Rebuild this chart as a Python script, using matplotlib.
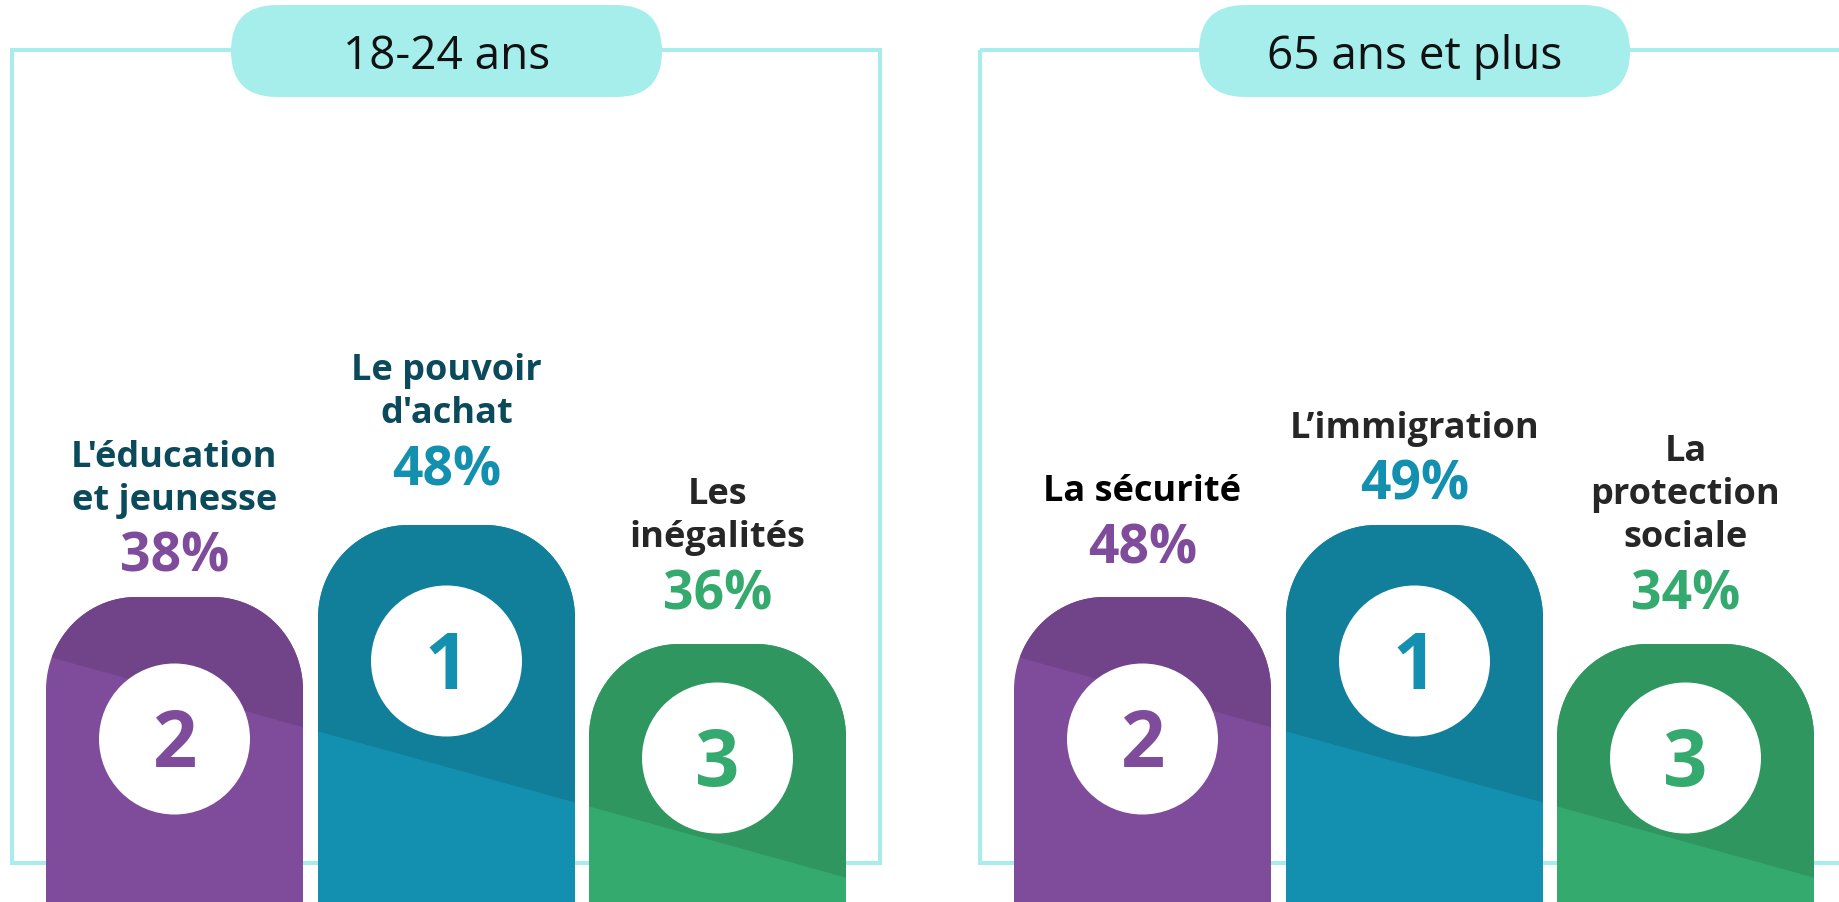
import matplotlib
matplotlib.use("Agg")
import matplotlib.pyplot as plt
from matplotlib.patches import PathPatch, Circle, FancyBboxPatch, Rectangle, Polygon
from matplotlib.path import Path
import numpy as np

# ---------------- data ----------------
panel_titles = ["18-24 ans", "65 ans et plus"]

topics_18_24 = ["L'éducation\net jeunesse", "Le pouvoir\nd'achat", "Les\ninégalités"]
values_18_24 = [38, 48, 36]
ranks_18_24 = [2, 1, 3]

topics_65 = ["La sécurité", "L’immigration", "La\nprotection\nsociale"]
values_65 = [48, 49, 34]
ranks_65 = [2, 1, 3]

# ---------------- layout / style ----------------
W, H = 1840, 902
FONT = ["Open Sans", "DejaVu Sans"]
frame_col = "#A8ECEC"
pill_col = "#A6EEEC"
light = {1: "#1390AF", 2: "#7F4C9B", 3: "#35AA6E"}
dark = {1: "#117F99", 2: "#71448A", 3: "#30965F"}
bar_top = {1: 525, 2: 597, 3: 644}
circle_y = {1: 661, 2: 739, 3: 758}
panel_x0 = [12, 980]
bar_dx = [34, 306, 577]
bar_w = 257
rx, ry = 90, 93
label_cols = [["#0B4A5A", "#0B4A5A", "#262626"], ["#000000", "#262626", "#262626"]]
pct_base = [[572, 485, 609], [563, 500, 609]]
line_gap = 43
pct_gap = 62

fig = plt.figure(figsize=(W / 100, H / 100), dpi=100)
ax = fig.add_axes([0, 0, 1, 1])
ax.set_xlim(0, W)
ax.set_ylim(H, 0)
ax.axis("off")


def bar_path(x0, top, w, bottom=H + 20):
    x1 = x0 + w
    t1 = np.linspace(np.pi, 1.5 * np.pi, 30)
    t2 = np.linspace(1.5 * np.pi, 2 * np.pi, 30)
    pts = [(x0, bottom), (x0, top + ry)]
    pts += [(x0 + rx + rx * np.cos(t), top + ry + ry * np.sin(t)) for t in t1]
    pts += [(x1 - rx + rx * np.cos(t), top + ry + ry * np.sin(t)) for t in t2]
    pts += [(x1, bottom), (x0, bottom)]
    codes = [Path.MOVETO] + [Path.LINETO] * (len(pts) - 2) + [Path.CLOSEPOLY]
    return Path(pts, codes)


panels = [(topics_18_24, values_18_24, ranks_18_24), (topics_65, values_65, ranks_65)]

for p, (topics, values, ranks) in enumerate(panels):
    px = panel_x0[p]
    # frame
    ax.add_patch(Rectangle((px, 50), 868, 813, fill=False, ec=frame_col, lw=2.9, zorder=1))
    # title pill
    ax.add_patch(FancyBboxPatch((px + 219, 5), 431, 92,
                                boxstyle="round,pad=0,rounding_size=46",
                                fc=pill_col, ec="none", zorder=2))
    ax.text(px + 434.5, 69, panel_titles[p], ha="center", va="baseline",
            fontsize=33, color="#111111", family=FONT, zorder=3)

    def yline(x):
        return 656 + 0.277 * (x - (px + 34))

    for i, (topic, val, rk) in enumerate(zip(topics, values, ranks)):
        x0 = px + bar_dx[i]
        x1 = x0 + bar_w
        top = bar_top[rk]
        bp = PathPatch(bar_path(x0, top, bar_w), fc=light[rk], ec="none", zorder=3)
        ax.add_patch(bp)
        dk = Polygon([(x0 - 2, yline(x0 - 2)), (x1 + 2, yline(x1 + 2)), (x1 + 2, 0), (x0 - 2, 0)],
                     closed=True, fc=dark[rk], ec="none", zorder=4)
        ax.add_patch(dk)
        dk.set_clip_path(bp)
        cx = x0 + bar_w / 2
        cy = circle_y[rk]
        ax.add_patch(Circle((cx, cy), 75.5, fc="white", ec="none", zorder=5))
        ax.text(cx, cy + 28, str(rk), ha="center", va="baseline", fontsize=56,
                fontweight="bold", color=light[rk], family=FONT, zorder=6)
        # percentage
        pb = pct_base[p][i]
        ax.text(cx, pb, f"{val}%", ha="center", va="baseline", fontsize=38.5,
                fontweight="bold", color=light[rk], family=FONT, zorder=6)
        lines = topic.split("\n")
        n = len(lines)
        for j, ln in enumerate(lines):
            yb = pb - pct_gap - (n - 1 - j) * line_gap
            ax.text(cx, yb, ln, ha="center", va="baseline", fontsize=26,
                    fontweight="bold", color=label_cols[p][i], family=FONT, zorder=6)

fig.savefig("out.png", dpi=100, facecolor="white")
